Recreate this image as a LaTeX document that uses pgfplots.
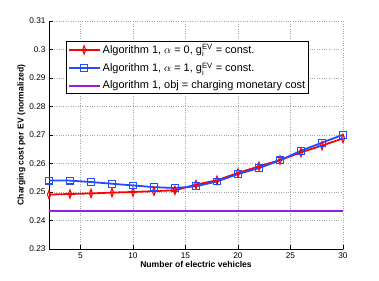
\documentclass[border=0pt]{standalone}
\usepackage{fontspec}
\setmainfont{Liberation Sans}
\setsansfont{Liberation Sans}
\usepackage{pgfplots}
\pgfplotsset{compat=1.18}
\definecolor{myred}{RGB}{255,0,0}
\definecolor{myblue}{RGB}{35,75,255}
\definecolor{mypurple}{RGB}{145,30,235}
\begin{document}
\begin{tikzpicture}
\useasboundingbox (-49bp,-32bp) rectangle (330bp,249bp);
\begin{axis}[
  scale only axis,
  width=294bp, height=228bp,
  xmin=2, xmax=30, ymin=0.23, ymax=0.31,
  xtick={5,10,15,20,25,30},
  ytick={0.23,0.24,0.25,0.26,0.27,0.28,0.29,0.3,0.31},
  yticklabels={0.23,0.24,0.25,0.26,0.27,0.28,0.29,0.3,0.31},
  xticklabels={5,10,15,20,25,30},
  tick label style={font=\fontsize{8.3}{10}\selectfont},
  grid=major,
  grid style={dotted, gray!70, line width=0.5pt},
  axis line style={black, line width=0.5pt},
  tick align=inside,
  tick style={black, line width=0.4pt},
  xtick pos=bottom, ytick pos=left,
  axis x line*=bottom, axis y line*=left,
  xlabel={\textbf{Number of electric vehicles}},
  ylabel={\textbf{Charging cost per EV (normalized)}},
  label style={font=\fontsize{8.6}{10}\selectfont},
  xlabel style={yshift=4pt},
  ylabel style={yshift=-3pt},
  legend style={at={(0.058,0.912)}, anchor=north west, draw=black, line width=0.6pt,
    font=\fontsize{11}{13}\selectfont, row sep=3.5pt, inner sep=1.2pt,
    legend cell align=left},
  legend image code/.code={\draw[mark repeat=2,mark phase=2] plot coordinates {(0cm,0cm)(0.55cm,0cm)(1.1cm,0cm)};},
]
\addplot[color=myred, line width=1.8pt, mark=diamond, mark size=2.6pt,
  mark options={solid, yscale=1.6, xscale=0.8, line width=1.1pt}]
coordinates {
(2,0.2491)(4,0.2493)(6,0.2495)(8,0.2498)(10,0.2500)(12,0.2503)(14,0.2506)
(16,0.2526)(18,0.2541)(20,0.2567)(22,0.2590)(24,0.2612)(26,0.2639)(28,0.2663)(30,0.2688)};
\addlegendentry{Algorithm 1, $\alpha$ = 0, g$_\mathrm{i}^\mathrm{EV}$ = const.}
\addplot[color=myblue, line width=1.8pt, mark=square, mark size=3.4pt,
  mark options={solid, line width=1.1pt}]
coordinates {
(2,0.2540)(4,0.2540)(6,0.2535)(8,0.2529)(10,0.2523)(12,0.2517)(14,0.2514)
(16,0.2520)(18,0.2537)(20,0.2563)(22,0.2584)(24,0.2611)(26,0.2645)(28,0.2673)(30,0.2701)};
\addlegendentry{Algorithm 1, $\alpha$ = 1, g$_\mathrm{i}^\mathrm{EV}$ = const.}
\addplot[draw=mypurple, line width=2pt, mark=none] coordinates {(2,0.2432)(16,0.2432)(30,0.2432)};
\addlegendentry{Algorithm 1, obj = charging monetary cost}
\end{axis}
\end{tikzpicture}
\end{document}
